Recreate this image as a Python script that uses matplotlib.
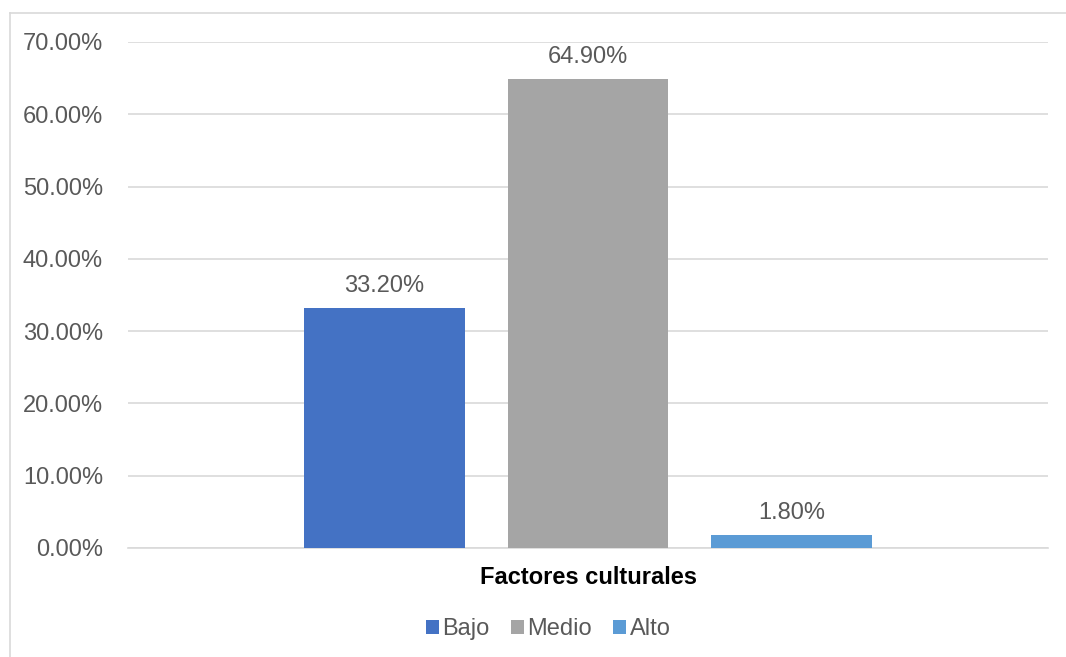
import matplotlib
matplotlib.use("Agg")
import matplotlib.pyplot as plt
from matplotlib.lines import Line2D
from matplotlib.patches import Patch

plt.rcParams['font.family'] = ['Liberation Sans', 'DejaVu Sans']

categories = ["Bajo", "Medio", "Alto"]
values = [0.332, 0.649, 0.018]
value_labels = ["33.20%", "64.90%", "1.80%"]
colors = ["#4472C4", "#A5A5A5", "#5B9BD5"]
yticks = [0.0, 0.1, 0.2, 0.3, 0.4, 0.5, 0.6, 0.7]
ytick_labels = ["0.00%", "10.00%", "20.00%", "30.00%", "40.00%", "50.00%", "60.00%", "70.00%"]
xlabel = "Factores culturales"

W, H = 1066, 657
fig = plt.figure(figsize=(W / 100, H / 100), dpi=100)
ax = fig.add_axes([128 / W, 1 - 548 / H, (1048 - 128) / W, (548 - 42) / H])

txt = "#595959"
xs = list(range(len(categories)))
ax.bar(xs, values, width=0.791, color=colors, zorder=3)
span = 920 / 203.5
ax.set_xlim(1 - span / 2, 1 + span / 2)
ax.set_ylim(0, 0.7)
ax.set_yticks(yticks)
ax.set_yticklabels(ytick_labels, fontsize=17, color=txt)
ax.set_xticks([])
ax.tick_params(axis='y', length=0, pad=18)
ax.grid(axis='y', color="#D9D9D9", linewidth=1.2, zorder=0)
for s in ["top", "right", "left"]:
    ax.spines[s].set_visible(False)
ax.spines["bottom"].set_color("#D9D9D9")
ax.spines["bottom"].set_linewidth(1.2)

for x, v, lab in zip(xs, values, value_labels):
    ax.annotate(lab, (x, v), xytext=(0, 16), textcoords="offset points",
                ha="center", va="center", fontsize=17, color=txt)

fig.text(588 / W, 1 - 577 / H, xlabel, ha="center", va="center",
         fontsize=17, fontweight="bold", color="black")

handles = [Patch(facecolor=c, edgecolor="none") for c in colors]
fig.legend(handles, categories, loc="center", bbox_to_anchor=(548 / W, 1 - 629 / H),
           ncol=3, frameon=False, fontsize=17, labelcolor=txt,
           handlelength=0.55, handleheight=0.55, handletextpad=0.15, columnspacing=0.9)

fig.add_artist(Line2D([9.5 / W, 9.5 / W], [0, 1 - 12.5 / H], transform=fig.transFigure,
                      color="#D9D9D9", linewidth=1.2))
fig.add_artist(Line2D([9.5 / W, 1], [1 - 12.5 / H, 1 - 12.5 / H], transform=fig.transFigure,
                      color="#D9D9D9", linewidth=1.2))

fig.savefig("out.png", dpi=100, facecolor="white")
